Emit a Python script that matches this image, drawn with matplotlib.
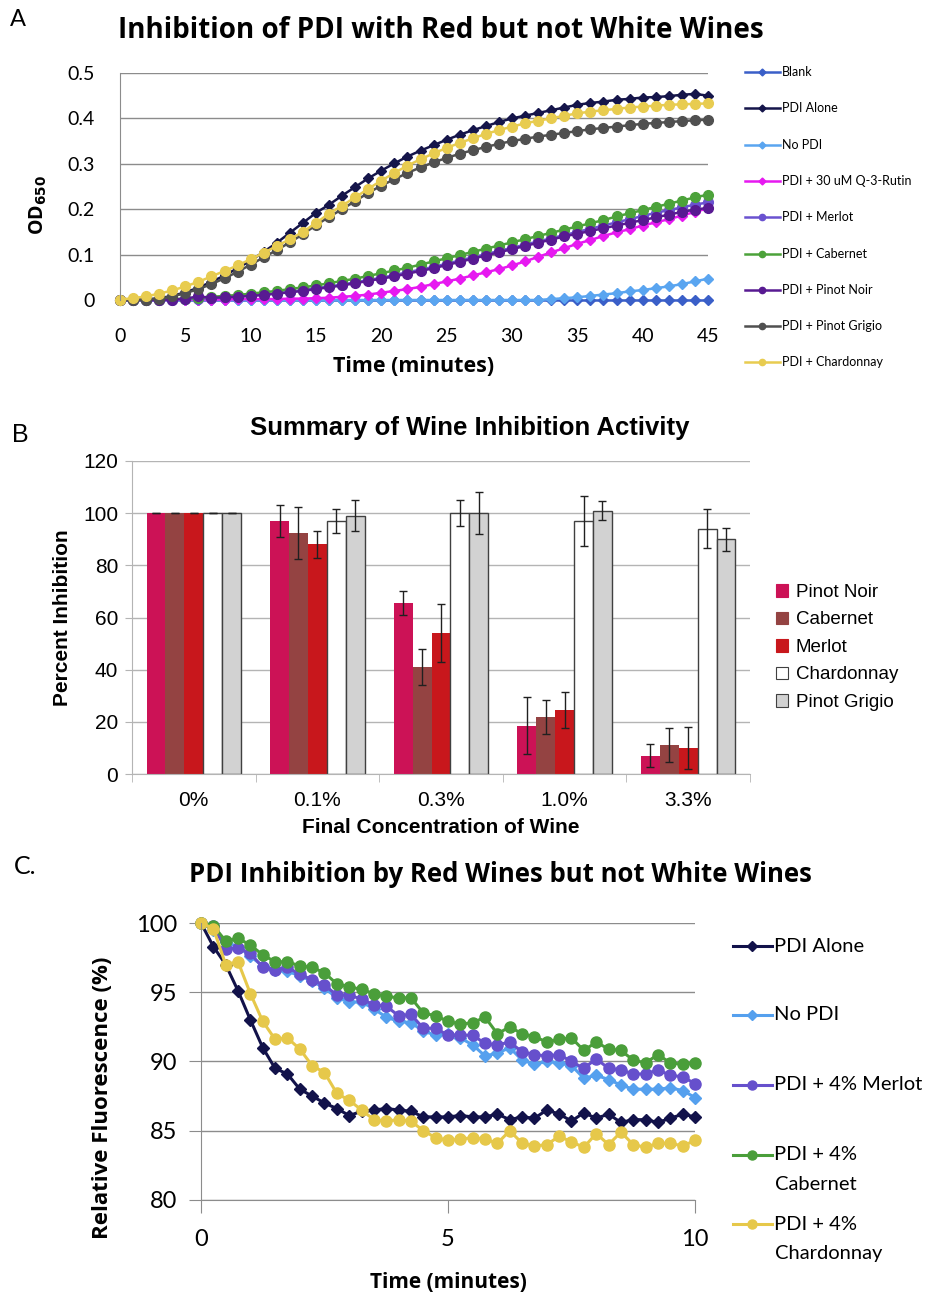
import numpy as np
import matplotlib
matplotlib.use('Agg')
import matplotlib.pyplot as plt
from matplotlib.lines import Line2D
from matplotlib.patches import Patch

plt.rcParams['font.family'] = ['Lato', 'DejaVu Sans']
hfont = 'Open Sans'

# ---------------- panel A : OD650 vs time (one reading per minute)
time_a = list(range(46))
blank = [0.0] * 46
pdi_alone = [0, 0, 0.001, 0.004, 0.009, 0.017, 0.027, 0.040, 0.054, 0.070,
             0.087, 0.106, 0.126, 0.148, 0.170, 0.192, 0.210, 0.230, 0.249, 0.268,
             0.285, 0.301, 0.316, 0.329, 0.341, 0.353, 0.364, 0.374, 0.383, 0.392,
             0.400, 0.406, 0.412, 0.418, 0.424, 0.430, 0.434, 0.437, 0.441, 0.443,
             0.446, 0.447, 0.449, 0.452, 0.454, 0.450]
no_pdi = [0] * 33 + [0.002, 0.004, 0.006, 0.009, 0.012, 0.015, 0.019, 0.022,
                     0.026, 0.030, 0.035, 0.041, 0.047]
rutin = [0, 0, 0, 0, 0, 0.001, 0.001, 0.001, 0.001, 0.002,
         0.002, 0.002, 0.002, 0.003, 0.003, 0.004, 0.005, 0.007, 0.009, 0.012,
         0.016, 0.020, 0.024, 0.029, 0.035, 0.041, 0.047, 0.054, 0.061, 0.068,
         0.076, 0.085, 0.095, 0.105, 0.114, 0.124, 0.132, 0.141, 0.149, 0.156,
         0.164, 0.171, 0.178, 0.186, 0.194, 0.202]
merlot = [0, 0, 0, 0, 0.001, 0.002, 0.003, 0.004, 0.006, 0.008,
          0.010, 0.012, 0.015, 0.018, 0.022, 0.026, 0.030, 0.034, 0.039, 0.044,
          0.049, 0.055, 0.061, 0.067, 0.073, 0.080, 0.087, 0.094, 0.101, 0.108,
          0.115, 0.122, 0.129, 0.136, 0.143, 0.150, 0.157, 0.164, 0.171, 0.178,
          0.185, 0.192, 0.198, 0.204, 0.210, 0.215]
cabernet = [0, 0, 0, 0.001, 0.002, 0.003, 0.005, 0.007, 0.009, 0.011,
            0.014, 0.017, 0.020, 0.024, 0.028, 0.032, 0.037, 0.042, 0.047, 0.053,
            0.059, 0.065, 0.071, 0.078, 0.085, 0.092, 0.099, 0.106, 0.113, 0.120,
            0.127, 0.134, 0.141, 0.148, 0.155, 0.162, 0.169, 0.176, 0.184, 0.191,
            0.198, 0.205, 0.212, 0.219, 0.226, 0.232]
pinot_noir_a = [0, 0, 0, 0, 0.001, 0.003, 0.008, 0.005, 0.006, 0.007,
                0.009, 0.011, 0.014, 0.017, 0.020, 0.024, 0.028, 0.032, 0.037, 0.042,
                0.047, 0.052, 0.058, 0.064, 0.070, 0.077, 0.084, 0.091, 0.098, 0.105,
                0.112, 0.119, 0.126, 0.133, 0.140, 0.146, 0.152, 0.158, 0.164, 0.170,
                0.176, 0.182, 0.188, 0.194, 0.199, 0.203]
pinot_grigio_a = [0, 0, 0.001, 0.003, 0.008, 0.015, 0.024, 0.035, 0.048, 0.062,
                  0.078, 0.094, 0.110, 0.127, 0.145, 0.165, 0.183, 0.200, 0.218, 0.236,
                  0.252, 0.266, 0.280, 0.292, 0.303, 0.313, 0.322, 0.330, 0.337, 0.344,
                  0.350, 0.355, 0.360, 0.364, 0.368, 0.372, 0.376, 0.379, 0.382, 0.385,
                  0.388, 0.390, 0.392, 0.394, 0.396, 0.397]
chardonnay_a = [0.001, 0.004, 0.008, 0.014, 0.021, 0.030, 0.040, 0.052, 0.064, 0.076,
                0.090, 0.104, 0.119, 0.134, 0.150, 0.170, 0.190, 0.208, 0.226, 0.245,
                0.263, 0.280, 0.296, 0.310, 0.323, 0.335, 0.346, 0.356, 0.366, 0.374,
                0.382, 0.389, 0.395, 0.400, 0.406, 0.411, 0.415, 0.418, 0.421, 0.424,
                0.426, 0.428, 0.430, 0.431, 0.432, 0.433]

series_a = [blank, pdi_alone, no_pdi, rutin, merlot, cabernet,
            pinot_noir_a, pinot_grigio_a, chardonnay_a]
names_a = ['Blank', 'PDI Alone', 'No PDI', 'PDI + 30 uM Q-3-Rutin', 'PDI + Merlot',
           'PDI + Cabernet', 'PDI + Pinot Noir', 'PDI + Pinot Grigio', 'PDI + Chardonnay']
colors_a = ['#3a5fc8', '#15154a', '#5aa5f0', '#e619f0', '#6a52d0',
            '#4ca23a', '#581a92', '#505050', '#e8cc50']
markers_a = ['D', 'D', 'D', 'D', 'o', 'o', 'o', 'o', 'o']

# ---------------- panel B : percent inhibition
concs = ['0%', '0.1%', '0.3%', '1.0%', '3.3%']
wines = ['Pinot Noir', 'Cabernet', 'Merlot', 'Chardonnay', 'Pinot Grigio']
pinot_noir_b = [100, 97, 65.5, 18.5, 7]
pinot_noir_err = [0, 6, 4.5, 11, 4.5]
cabernet_b = [100, 92.5, 41, 22, 11]
cabernet_err = [0, 10, 7, 6.5, 6.5]
merlot_b = [100, 88, 54, 24.5, 10]
merlot_err = [0, 5, 11, 7, 8]
chardonnay_b = [100, 97, 100, 97, 94]
chardonnay_err = [0, 4.5, 5, 9.5, 7.5]
pinot_grigio_b = [100, 99, 100, 101, 90]
pinot_grigio_err = [0, 6, 8, 3.5, 4.5]
values_b = [pinot_noir_b, cabernet_b, merlot_b, chardonnay_b, pinot_grigio_b]
errors_b = [pinot_noir_err, cabernet_err, merlot_err, chardonnay_err, pinot_grigio_err]
colors_b = ['#cc1256', '#944342', '#c8171c', '#ffffff', '#d2d2d2']
edges_b = ['none', 'none', 'none', '#404040', '#404040']

# ---------------- panel C : relative fluorescence (every 15 s)
time_c = [i * 0.25 for i in range(41)]
pdi_alone_c = [100.0, 98.3, 97.0, 95.1, 93.0, 91.0, 89.5, 89.1, 88.0, 87.5,
               87.0, 86.6, 86.1, 86.4, 86.5, 86.6, 86.5, 86.4, 86.0, 86.0,
               86.0, 86.1, 86.0, 86.0, 86.2, 85.8, 86.0, 85.9, 86.5, 86.2,
               85.7, 86.3, 85.9, 86.2, 85.6, 85.8, 85.8, 85.6, 85.9, 86.2, 86.0]
no_pdi_c = [100.0, 99.5, 98.6, 98.3, 97.6, 96.9, 96.6, 96.5, 96.2, 95.8,
            95.3, 94.6, 94.3, 94.3, 93.8, 93.2, 92.9, 92.8, 92.2, 91.9,
            92.0, 91.7, 91.2, 90.4, 90.6, 91.0, 90.1, 89.8, 90.0, 89.9,
            89.7, 88.8, 89.0, 88.7, 88.3, 88.0, 88.0, 88.0, 88.1, 87.9, 87.4]
merlot_c = [100.0, 99.8, 98.1, 98.2, 97.8, 96.8, 96.6, 96.8, 96.3, 95.9,
            95.5, 94.8, 94.8, 94.5, 94.1, 94.0, 93.3, 93.4, 92.4, 92.4,
            91.9, 91.9, 91.9, 91.3, 91.2, 91.4, 90.7, 90.5, 90.4, 90.5,
            90.0, 89.5, 90.2, 89.5, 89.4, 89.1, 89.1, 89.4, 89.0, 88.9, 88.4]
cabernet_c = [100.0, 99.8, 98.7, 98.9, 98.4, 97.7, 97.2, 97.2, 96.9, 96.8,
              96.4, 95.6, 95.4, 95.2, 94.9, 94.7, 94.6, 94.6, 93.5, 93.3,
              92.9, 92.7, 92.8, 93.2, 92.0, 92.5, 92.0, 91.8, 91.4, 91.6,
              91.7, 90.8, 91.4, 90.9, 90.8, 90.1, 89.9, 90.5, 89.9, 89.8, 89.9]
chardonnay_c = [100.0, 99.6, 97.0, 97.2, 94.9, 92.9, 91.6, 91.7, 90.9, 89.7,
                89.2, 87.7, 87.2, 86.5, 85.8, 85.7, 85.8, 85.7, 85.0, 84.5,
                84.3, 84.4, 84.5, 84.4, 84.1, 85.0, 84.1, 83.9, 84.0, 84.6,
                84.2, 83.8, 84.8, 84.0, 84.9, 84.0, 83.8, 84.1, 84.1, 83.9, 84.3]
series_c = [pdi_alone_c, no_pdi_c, merlot_c, cabernet_c, chardonnay_c]
names_c = ['PDI Alone', 'No PDI', 'PDI + 4% Merlot', 'PDI + 4%\nCabernet', 'PDI + 4%\nChardonnay']
colors_c = ['#12124a', '#55a0ee', '#6650cc', '#4a9e3a', '#e6c84a']
markers_c = ['D', 'D', 'o', 'o', 'o']

W, H = 929, 1298
fig = plt.figure(figsize=(W / 100, H / 100), dpi=100)
grid_col = '#8c8c8c'


def box(l, t, r, b):
    # axes from pixel edges
    return fig.add_axes([l / W, 1 - b / H, (r - l) / W, (b - t) / H])


def key(x0, x1, y, color, marker, ms, lw, text, fs, **kw):
    fy = 1 - y / H
    fig.add_artist(Line2D([x0 / W, (x0 + x1) / 2 / W, x1 / W], [fy, fy, fy],
                          transform=fig.transFigure, color=color, lw=lw,
                          marker=marker, ms=ms, markevery=[1]))
    fig.text(x1 / W + 0.002, fy, text, fontsize=fs, va='center', **kw)


# ---------- A
ax = box(120, 73, 708, 300)
for ys, c, m in zip(series_a, colors_a, markers_a):
    ax.plot(time_a, ys, color=c, marker=m, ms=5.5 if m == 'D' else 7, lw=1.8, clip_on=False)
ax.set_xlim(0, 45)
ax.set_ylim(0, 0.5)
ax.set_xticks(range(0, 46, 5))
ax.set_yticks(np.arange(0, 0.51, 0.1))
ax.set_yticklabels(['0', '0.1', '0.2', '0.3', '0.4', '0.5'])
ax.yaxis.grid(True, color=grid_col, lw=1)
ax.set_axisbelow(True)
for s in ['top', 'right', 'bottom']:
    ax.spines[s].set_visible(False)
ax.spines['left'].set_color(grid_col)
ax.tick_params(length=0, labelsize=14)
ax.tick_params(axis='x', pad=20)
ax.tick_params(axis='y', pad=18)
ax.set_xlabel('Time (minutes)', fontsize=15.5, fontweight='bold', fontfamily=hfont, labelpad=8)
ax.set_ylabel('OD$_{\\mathbf{650}}$', fontsize=14, fontweight='bold', fontfamily=hfont)
ax.yaxis.set_label_coords(-0.12, 0.42)
fig.text(441 / W, 1 - 30 / H, 'Inhibition of PDI with Red but not White Wines',
         fontsize=20, fontweight='bold', fontfamily=hfont, ha='center', va='center')
fig.text(10 / W, 1 - 20 / H, 'A', fontsize=17, va='center')
for i, (n, c, m) in enumerate(zip(names_a, colors_a, markers_a)):
    key(745, 780, 72 + i * 36.3, c, m, 3.5 if m == 'D' else 4.5, 1.8, n, 9)

# ---------- B
bfont = 'Liberation Sans'
ax = box(132, 461, 750, 774)
xpos = np.arange(len(concs))
bw = 0.153
for i in range(len(wines)):
    ax.bar(xpos + (i - 2) * bw, values_b[i], bw, color=colors_b[i],
           edgecolor=edges_b[i], lw=1, yerr=errors_b[i], capsize=3,
           error_kw=dict(elinewidth=1, capthick=1, ecolor='#202020'), label=wines[i])
ax.set_xlim(-0.5, 4.5)
ax.set_ylim(0, 120)
ax.set_yticks(range(0, 121, 20))
ax.set_xticks(xpos)
ax.set_xticklabels(concs, fontfamily=bfont)
ax.set_xticks(np.arange(-0.5, 4.6, 1), minor=True)
for lab in ax.get_yticklabels():
    lab.set_fontfamily(bfont)
ax.yaxis.grid(True, color='#b4b4b4', lw=1)
ax.set_axisbelow(True)
for s in ['top', 'right']:
    ax.spines[s].set_visible(False)
ax.spines['left'].set_color('#b4b4b4')
ax.spines['bottom'].set_color('#b4b4b4')
ax.tick_params(axis='x', which='major', length=0, labelsize=15, pad=12)
ax.tick_params(axis='x', which='minor', length=6, color='#b4b4b4')
ax.tick_params(axis='y', length=5, color='#b4b4b4', labelsize=15, pad=5)
ax.set_xlabel('Final Concentration of Wine', fontsize=15, fontweight='bold',
              fontfamily=bfont, labelpad=6)
ax.set_ylabel('Percent Inhibition', fontsize=15, fontweight='bold',
              fontfamily=bfont, labelpad=8)
fig.text(470 / W, 1 - 428 / H, 'Summary of Wine Inhibition Activity', fontsize=18.5,
         fontweight='bold', fontfamily=bfont, ha='center', va='center')
fig.text(12 / W, 1 - 435 / H, 'B', fontsize=18, fontfamily=bfont, va='center')
handles = [Patch(facecolor=c, edgecolor=('#404040' if e != 'none' else c), lw=0.8)
           for c, e in zip(colors_b, edges_b)]
fig.legend(handles, wines, loc='upper left', bbox_to_anchor=(776 / W, 1 - 584 / H),
           frameon=False, handlelength=0.65, handleheight=0.65, handletextpad=0.4,
           labelspacing=0.56, borderaxespad=0, borderpad=0,
           prop={'family': bfont, 'size': 13.5})

# ---------- C
ax = box(201, 923, 695, 1200)
for ys, c, m in zip(series_c, colors_c, markers_c):
    ax.plot(time_c, ys, color=c, marker=m, ms=6.5 if m == 'D' else 8, lw=2.2, clip_on=False)
ax.set_xlim(0, 10)
ax.set_ylim(80, 100)
ax.set_xticks([0, 5, 10])
ax.set_yticks(range(80, 101, 5))
ax.yaxis.grid(True, color=grid_col, lw=1)
ax.set_axisbelow(True)
for s in ['top', 'right']:
    ax.spines[s].set_visible(False)
ax.spines['left'].set_color(grid_col)
ax.spines['bottom'].set_color(grid_col)
ax.tick_params(length=9, color=grid_col, labelsize=17)
ax.tick_params(axis='x', pad=12)
ax.tick_params(axis='y', pad=8)
ax.set_xlabel('Time (minutes)', fontsize=15, fontweight='bold', fontfamily=hfont, labelpad=16)
ax.set_ylabel('Relative Fluorescence (%)', fontsize=16, fontweight='bold', fontfamily=hfont)
ax.yaxis.set_label_coords(-0.178, 0.37)
fig.text(500 / W, 1 - 875 / H, 'PDI Inhibition by Red Wines but not White Wines',
         fontsize=18.5, fontweight='bold', fontfamily=hfont, ha='center', va='center')
fig.text(14 / W, 1 - 866 / H, 'C.', fontsize=18, va='center')
key_y = [946, 1015, 1085, 1155, 1224]
for y, n, c, m in zip(key_y, names_c, colors_c, markers_c):
    first, *rest = n.split('\n')
    key(733, 772, y, c, m, 5 if m == 'D' else 6.5, 2.2, first, 14.5)
    if rest:
        fig.text(775 / W, 1 - (y + 29) / H, rest[0], fontsize=14.5, va='center')

fig.savefig('out.png', dpi=100)
